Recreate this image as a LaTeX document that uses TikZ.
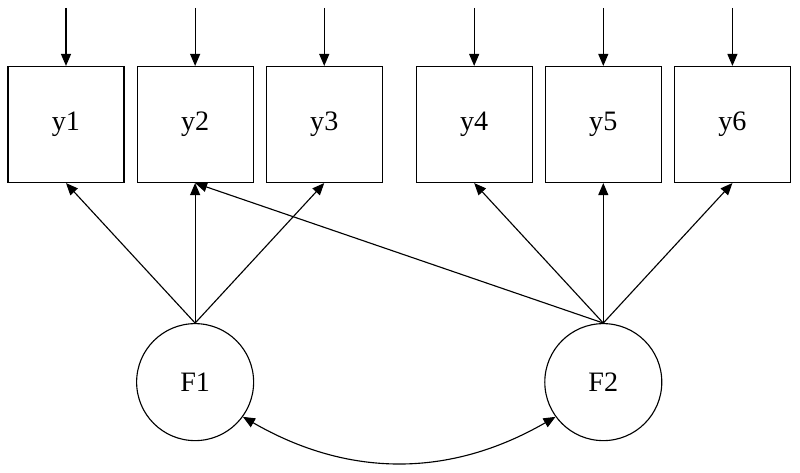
\documentclass[tikz,border=0pt]{standalone}
\usepackage{fontspec}
\setmainfont{Liberation Serif}
\usetikzlibrary{arrows.meta,positioning}

\begin{document}
\begin{tikzpicture}
    \tikzstyle{every node} = [font=\fontsize{20}{24}\selectfont]
    \tikzstyle{observed} = [draw, rectangle, minimum width=2.9cm, minimum height=2.9cm, inner sep=0pt, line width=0.8pt]
    \tikzstyle{latent} = [draw, circle, minimum size=2.925cm, inner sep=0pt, line width=0.8pt]
    \tikzstyle{load} = [-{Triangle[length=0.3cm,width=0.25cm]}, line width=0.8pt]
    \tikzstyle{cov} = [{Triangle[length=0.3cm,width=0.25cm]}-{Triangle[length=0.3cm,width=0.25cm]}, line width=0.8pt]
    \useasboundingbox (0,0) rectangle (20,11.8);
    % place nodes
    \node[observed](y1) at (1.65,8.6875){y1};
    \node[observed,right=0.3cm of y1](y2){y2};
    \node[observed,right=0.3cm of y2](y3){y3};
    \node[observed,right=0.82cm of y3](y4){y4};
    \node[observed,right=0.3cm of y4](y5){y5};
    \node[observed,right=0.3cm of y5](y6){y6};
    \node[latent,below=3.5cm of y2](F1){F1};
    \node[latent,below=3.5cm of y5](F2){F2};

    % Connections
    \foreach \i in {1,...,6}{
        \coordinate[above=1.45cm of y\i.north](e\i);
        \draw[load] (e\i)--(y\i.north);
    }
    \foreach \i in {1,2,3}
        \draw[load] (F1.north)--(y\i.south);
    \foreach \i in {2,4,5,6}
        \draw[load] (F2.north)--(y\i.south);
    \draw[cov] (F1.-36) to[bend right=30] (F2.-144);

\end{tikzpicture}
\end{document}
